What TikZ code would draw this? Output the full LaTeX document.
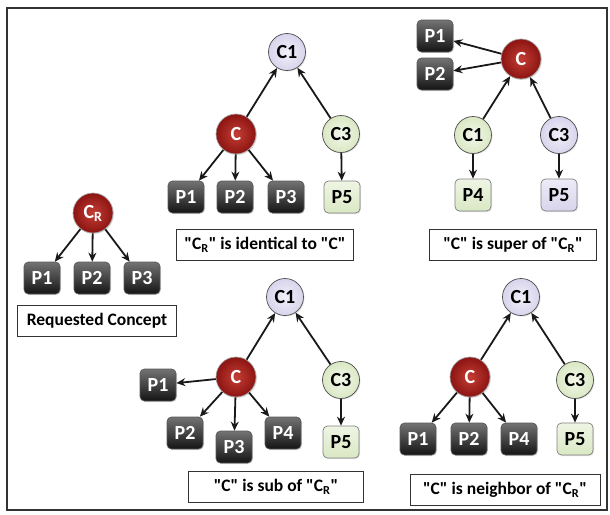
\documentclass[tikz,border=0pt]{standalone}
\usepackage{fontspec}
\setmainfont{Carlito}[Ligatures=TeXOff]
\usetikzlibrary{arrows.meta,shadows}
\definecolor{cred}{RGB}{165,32,28}
\definecolor{credin}{RGB}{196,62,52}
\definecolor{credout}{RGB}{140,20,18}
\definecolor{cpurp}{RGB}{216,212,236}
\definecolor{cgreen}{RGB}{218,232,196}
\tikzset{
  circ/.style={circle, draw=black!70, line width=0.7, minimum size=37, inner sep=0,
    font=\bfseries\fontsize{20}{20}\selectfont,
    drop shadow={opacity=0.25, shadow xshift=1pt, shadow yshift=-1pt}},
  rcirc/.style={circ, minimum size=40, inner color=credin, outer color=credout, text=white, draw=black!35},
  pcirc/.style={circ, inner color=cpurp!35, outer color=cpurp},
  gcirc/.style={circ, inner color=cgreen!35, outer color=cgreen},
  pbox/.style={rectangle, rounded corners=4.5, draw=black!65, line width=0.7,
    minimum width=36, minimum height=32, inner sep=0,
    font=\bfseries\fontsize{20}{20}\selectfont,
    drop shadow={opacity=0.25, shadow xshift=1pt, shadow yshift=-1pt}},
  dbox/.style={pbox, top color=black!55, bottom color=black!92, text=white},
  gbox/.style={pbox, top color=cgreen!45, bottom color=cgreen, draw=black!50},
  vbox/.style={pbox, top color=cpurp!45, bottom color=cpurp, draw=black!50},
  lab/.style={rectangle, draw=black!80, line width=0.8, minimum height=31, inner sep=0,
    font=\bfseries\fontsize{17.5}{17.5}\selectfont},
  arr/.style={-{Stealth[length=9,width=8]}, line width=1.8, black!90},
}
\begin{document}
\begin{tikzpicture}[x=1pt,y=-1pt]
\useasboundingbox (0,0) rectangle (610,514);
\draw[line width=1.5, black!80] (7,8) rectangle (607,510);

% Requested concept
\node[rcirc] (rC) at (93,213) {C\textsubscript{R}};
\node[dbox] (rP1) at (42,278) {P1};
\node[dbox] (rP2) at (92,278) {P2};
\node[dbox] (rP3) at (142,278) {P3};
\node[lab, minimum width=159] (rL) at (97,321) {Requested Concept};
\draw[arr] (rC) -- (rP1);
\draw[arr] (rC) -- (rP2);
\draw[arr] (rC) -- (rP3);

% identical
\node[pcirc] (aC1) at (287,52) {C1};
\node[rcirc] (aC) at (236,134) {C};
\node[gcirc] (aC3) at (341,134) {C3};
\node[dbox] (aP1) at (186,197) {P1};
\node[dbox] (aP2) at (235,197) {P2};
\node[dbox] (aP3) at (286,197) {P3};
\node[gbox] (aP5) at (342,197) {P5};
\node[lab, minimum width=177] (aL) at (265,245) {"C\textsubscript{R}" is identical to "C"};
\draw[arr] (aC) -- (aC1);
\draw[arr] (aC3) -- (aC1);
\draw[arr] (aC) -- (aP1);
\draw[arr] (aC) -- (aP2);
\draw[arr] (aC) -- (aP3);
\draw[arr] (aC3) -- (aP5);

% super
\node[dbox] (bP1) at (435,36) {P1};
\node[dbox] (bP2) at (435,74) {P2};
\node[rcirc] (bC) at (521,59) {C};
\node[gcirc] (bC1) at (473,135) {C1};
\node[pcirc] (bC3) at (559,135) {C3};
\node[gbox] (bP4) at (473,195) {P4};
\node[vbox] (bP5) at (559,195) {P5};
\node[lab, minimum width=167] (bL) at (513,245) {"C" is super of "C\textsubscript{R}"};
\draw[arr] (bC) -- (bP1);
\draw[arr] (bC) -- (bP2);
\draw[arr] (bC1) -- (bC);
\draw[arr] (bC3) -- (bC);
\draw[arr] (bC1) -- (bP4);
\draw[arr] (bC3) -- (bP5);

% sub
\node[pcirc] (cC1) at (285,297) {C1};
\node[rcirc] (cC) at (236,377) {C};
\node[gcirc] (cC3) at (341,380) {C3};
\node[dbox] (cP1) at (158,385) {P1};
\node[dbox] (cP2) at (185,433) {P2};
\node[dbox] (cP3) at (234,447) {P3};
\node[dbox] (cP4) at (283,433) {P4};
\node[gbox] (cP5) at (341,442) {P5};
\node[lab, minimum width=175] (cL) at (276,487) {"C" is sub of "C\textsubscript{R}"};
\draw[arr] (cC) -- (cC1);
\draw[arr] (cC3) -- (cC1);
\draw[arr] (cC) -- (cP1);
\draw[arr] (cC) -- (cP2);
\draw[arr] (cC) -- (cP3);
\draw[arr] (cC) -- (cP4);
\draw[arr] (cC3) -- (cP5);

% neighbor
\node[pcirc] (dC1) at (521,297) {C1};
\node[rcirc] (dC) at (470,377) {C};
\node[gcirc] (dC3) at (575,380) {C3};
\node[dbox] (dP1) at (418,439) {P1};
\node[dbox] (dP2) at (469,439) {P2};
\node[dbox] (dP4) at (519,439) {P4};
\node[gbox] (dP5) at (575,439) {P5};
\node[lab, minimum width=190] (dL) at (505,490) {"C" is neighbor of "C\textsubscript{R}"};
\draw[arr] (dC) -- (dC1);
\draw[arr] (dC3) -- (dC1);
\draw[arr] (dC) -- (dP1);
\draw[arr] (dC) -- (dP2);
\draw[arr] (dC) -- (dP4);
\draw[arr] (dC3) -- (dP5);
\end{tikzpicture}
\end{document}
